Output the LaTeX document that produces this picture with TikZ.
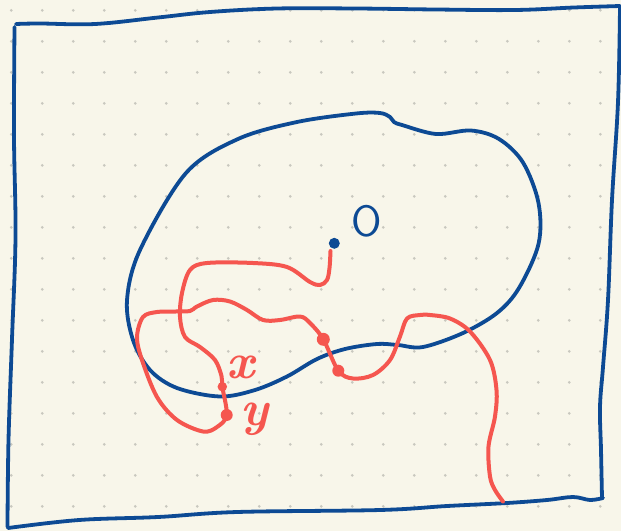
\documentclass[tikz,border=0pt]{standalone}
\usepackage{xcolor}
\usepackage{tikz}
\usetikzlibrary{positioning}
\definecolor{paper}{HTML}{F8F6EA}
\definecolor{ink}{HTML}{0D4A94}
\definecolor{pen}{HTML}{F5564F}
\definecolor{griddot}{HTML}{C9C8BF}

\begin{document}
\begin{tikzpicture}[x=1pt, y=-1pt,
  frame/.style={draw=ink, line width=3.8pt, line cap=round, line join=round},
  blob/.style={draw=ink, line width=3.8pt},
  walk/.style={draw=pen, line width=4pt, line cap=round, line join=round},
  pt/.style={circle, fill=pen, inner sep=0pt, minimum size=#1},
  pt/.default=10pt,
  lbl/.style={text=pen, inner sep=0pt, font=\fontsize{50}{50}\selectfont\bfseries\itshape}]
% paper and dot grid
\fill[paper] (0,0) rectangle (621,531);
\useasboundingbox (0,0) rectangle (621,531);
\foreach \i in {0,...,19}
  \foreach \j in {0,...,16}
    \fill[griddot] (11.3+31*\i, 10.3+31*\j) circle (1.5pt);
% hand drawn frame
\draw[frame] plot[smooth, tension=0.6] coordinates {(16,24) (40,23.5) (95,24) (158,17.5) (210,12) (277,8.5) (356,8.5) (436,9.5) (515,10) (574,7.5) (620,6)};
\draw[frame] plot[smooth, tension=0.6] coordinates {(620,7) (618,102) (612,200) (608,300) (603,367) (600,407) (601,450) (602,498)};
\draw[frame] plot[smooth, tension=0.6] coordinates {(603,498) (590,500) (573,497) (547,500) (507,503) (447,506) (380,510) (237,512) (158,517) (79,520) (8,528)};
\draw[frame] plot[smooth, tension=0.6] coordinates {(14.5,27) (14,136) (15.5,237) (12,339) (8.5,440) (7.5,527)};
% region
\draw[blob] plot[smooth cycle, tension=0.55] coordinates {(297,122) (356,113.5) (380,113) (390,117) (394,122) (402,125) (436,134) (471,130.5) (499,139) (523,162.5) (538.5,203) (538.5,244) (519,288) (497,313) (463,333) (423,347) (398,345) (377,344) (345,349) (317,359) (287,376.5) (255,390) (220,396.5) (177,388) (150,370) (133,340) (127,300) (140,250) (186,173) (238,139)};
\node[circle, fill=ink, inner sep=0pt, minimum size=11pt] (o) at (334.3,243.3) {};
\node[text=ink, inner sep=0pt, font=\fontsize{44}{44}\selectfont\sffamily] (olbl) at (366.5,221.5) {O};
% the path from o to the border
\coordinate (cx) at (222.3,386.7);
\coordinate (cy) at (226.7,415);
\coordinate (ca) at (323.3,339.3);
\coordinate (cb) at (338.3,370.7);
\coordinate (cend) at (503,501.5);
\draw[walk] plot[smooth, tension=0.55] coordinates {(330.5,251) (329.5,268) (327,280) (320,285) (310,282) (287,267) (253,263) (207,263) (190,270) (182,293) (180,317) (185,337) (200,347) (215,360) (221.5,376) (cx) (cy) (217,427) (203,431.5) (177,420) (157,397) (142,360) (137,337) (143,317) (157,312) (175,311.5) (190,311) (197,306.5) (213,300) (230,301.5) (247,310) (263,320) (280,320) (300,316.5) (310,323) (ca) (cb) (353,378.5) (373,375) (390,360) (400,336.5) (407,318.5) (420,315) (430,315) (450,318.5) (470,331.5) (490,360) (496.5,390) (495,416.5) (488.5,446.5) (490,476.5) (495,490) (cend)};
\node[pt=9.5pt] (x) at (cx) {};
\node[pt=12pt] (y) at (cy) {};
\node[pt=13pt] (a) at (ca) {};
\node[pt=12pt] (b) at (cb) {};
\node[lbl] (xlbl) at (241,367) {x};
\node[lbl] (ylbl) at (255,419) {y};
\end{tikzpicture}
\end{document}
